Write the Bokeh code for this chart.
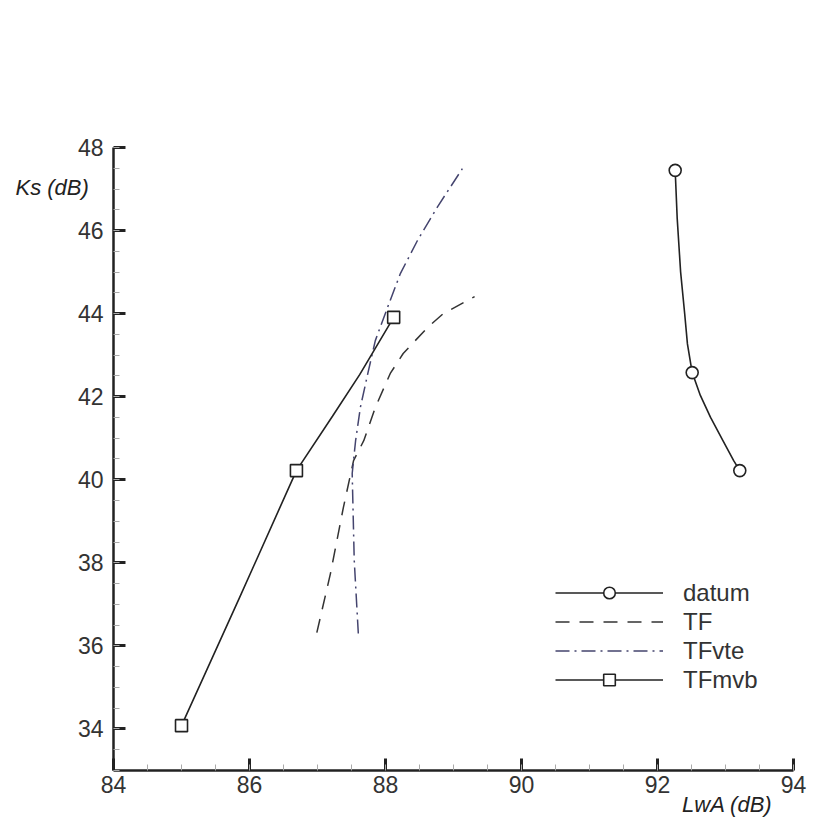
from bokeh.plotting import figure
from bokeh.models import SingleIntervalTicker, Label, Legend, LegendItem, Range1d, LinearAxis
from bokeh.embed import file_html
from bokeh.resources import INLINE

# datum (markers) and its smooth connecting curve
datum_x = [92.26, 92.51, 93.21]
datum_y = [47.45, 42.58, 40.22]
datum_curve_x = [92.26, 92.29, 92.34, 92.40, 92.44, 92.51, 92.63, 92.78, 92.96, 93.12, 93.21]
datum_curve_y = [47.45, 46.28, 45.00, 43.99, 43.27, 42.58, 42.03, 41.50, 40.95, 40.46, 40.22]

# TF (dashed)
tf_x = [86.99, 87.19, 87.38, 87.53, 87.68, 87.85, 88.07, 88.26, 88.62, 88.85, 89.31]
tf_y = [36.32, 37.74, 39.33, 40.46, 40.94, 41.74, 42.56, 43.04, 43.67, 44.00, 44.41]

# TFvte (dash-dot)
tfvte_x = [87.60, 87.54, 87.51, 87.56, 87.63, 87.74, 87.85, 88.03, 88.22, 88.47, 88.76, 89.13]
tfvte_y = [36.30, 38.06, 40.15, 40.94, 41.74, 42.56, 43.35, 44.15, 44.97, 45.76, 46.56, 47.49]

# TFmvb (markers + curve)
tfmvb_x = [85.00, 86.69, 88.12]
tfmvb_y = [34.08, 40.22, 43.91]
tfmvb_curve_x = [85.00, 85.85, 86.69, 87.22, 87.62, 88.12]
tfmvb_curve_y = [34.08, 37.15, 40.22, 41.53, 42.53, 43.91]

labels = ["datum", "TF", "TFvte", "TFmvb"]
x_title = "LwA (dB)"
y_title = "Ks (dB)"
x_bounds = (84, 94)
y_bounds = (33, 48)

# frame covers the whole canvas; axes are drawn at fixed data positions
p = figure(width=813, height=820, output_backend="svg", toolbar_location=None,
           x_range=Range1d(82.338, 94.294), y_range=Range1d(31.796, 51.539),
           x_axis_location=None, y_axis_location=None,
           min_border=0, min_border_left=0, min_border_right=0,
           min_border_top=0, min_border_bottom=0)
p.outline_line_color = None
p.grid.visible = False
p.background_fill_color = "white"
p.border_fill_color = "white"

font = "Liberation Sans"
xaxis = LinearAxis(fixed_location=y_bounds[0], bounds=x_bounds)
yaxis = LinearAxis(fixed_location=x_bounds[0], bounds=y_bounds)
for ax in (xaxis, yaxis):
    ax.ticker = SingleIntervalTicker(interval=2, num_minor_ticks=4)
    ax.axis_line_width = 2.5
    ax.axis_line_color = "#222222"
    ax.major_tick_in = 12
    ax.major_tick_out = 0
    ax.major_tick_line_width = 3
    ax.major_tick_line_color = "#222222"
    ax.minor_tick_in = 6
    ax.minor_tick_out = 0
    ax.minor_tick_line_color = "#aaaaaa"
    ax.minor_tick_line_width = 1
    ax.major_label_text_font = font
    ax.major_label_text_font_size = "23px"
    ax.major_label_text_color = "#333333"
xaxis.major_label_standoff = 6
yaxis.major_label_standoff = 10
p.add_layout(xaxis, "below")
p.add_layout(yaxis, "left")

r_dc = p.line(datum_curve_x, datum_curve_y, line_color="#222222", line_width=1.6)
r_dm = p.scatter(datum_x, datum_y, marker="circle", size=12, fill_color="white",
                 line_color="#222222", line_width=1.6)
r_tf = p.line(tf_x, tf_y, line_color="#333333", line_width=1.5, line_dash="14 10")
r_tv = p.line(tfvte_x, tfvte_y, line_color="#44446e", line_width=1.5, line_dash="14 5 2 5")
r_mc = p.line(tfmvb_curve_x, tfmvb_curve_y, line_color="#222222", line_width=1.6)
r_mm = p.scatter(tfmvb_x, tfmvb_y, marker="square", size=12, fill_color="white",
                 line_color="#222222", line_width=1.6)

legend = Legend(items=[
    LegendItem(label=labels[0], renderers=[r_dc, r_dm]),
    LegendItem(label=labels[1], renderers=[r_tf]),
    LegendItem(label=labels[2], renderers=[r_tv]),
    LegendItem(label=labels[3], renderers=[r_mc, r_mm]),
], location=(555, 126), glyph_width=108, glyph_height=29, label_height=20,
    spacing=0, label_standoff=20, padding=0, margin=0,
    border_line_color=None, background_fill_alpha=0,
    label_text_font=font, label_text_font_size="24px", label_text_color="#333333")
p.add_layout(legend, "center")

p.add_layout(Label(x=15, y=633, x_units="screen", y_units="screen", text=y_title,
                   text_font=font, text_font_style="italic",
                   text_font_size="22px", text_color="#222222", text_baseline="middle",
                   text_align="left"))
p.add_layout(Label(x=772, y=16, x_units="screen", y_units="screen", text=x_title,
                   text_font=font, text_font_style="italic",
                   text_font_size="22px", text_color="#222222", text_baseline="middle",
                   text_align="right"))

open("out.html", "w").write(file_html(p, INLINE))
